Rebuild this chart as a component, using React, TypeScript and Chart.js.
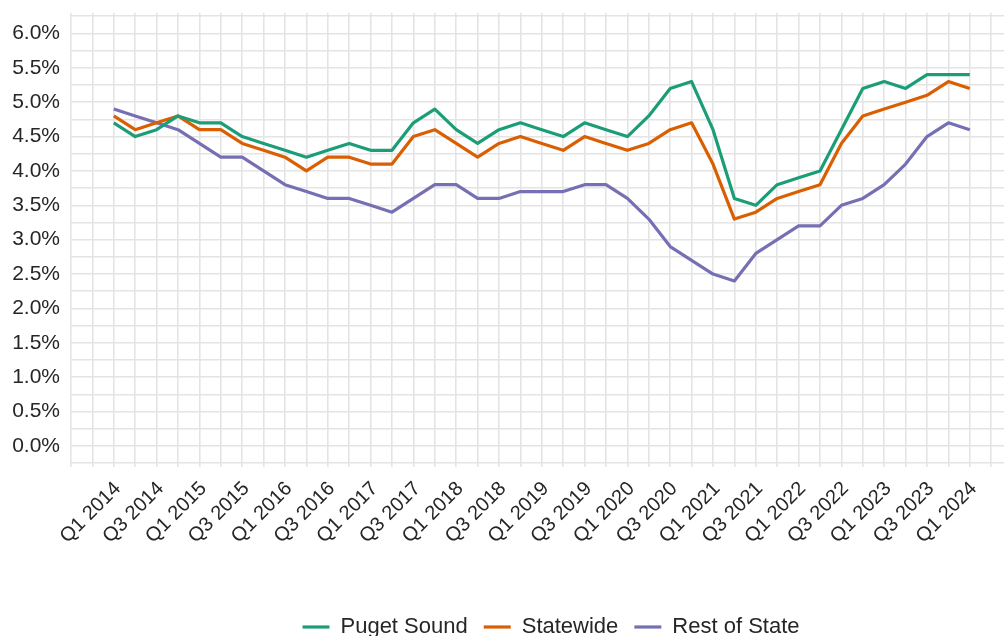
import React, { useEffect, useRef } from "react";
import { Chart, registerables } from "chart.js";

Chart.register(...registerables);

const quarters = [
  "Q1 2014", "Q2 2014", "Q3 2014", "Q4 2014",
  "Q1 2015", "Q2 2015", "Q3 2015", "Q4 2015",
  "Q1 2016", "Q2 2016", "Q3 2016", "Q4 2016",
  "Q1 2017", "Q2 2017", "Q3 2017", "Q4 2017",
  "Q1 2018", "Q2 2018", "Q3 2018", "Q4 2018",
  "Q1 2019", "Q2 2019", "Q3 2019", "Q4 2019",
  "Q1 2020", "Q2 2020", "Q3 2020", "Q4 2020",
  "Q1 2021", "Q2 2021", "Q3 2021", "Q4 2021",
  "Q1 2022", "Q2 2022", "Q3 2022", "Q4 2022",
  "Q1 2023", "Q2 2023", "Q3 2023", "Q4 2023",
  "Q1 2024",
];

const pugetSound = [
  4.7, 4.5, 4.6, 4.8,
  4.7, 4.7, 4.5, 4.4,
  4.3, 4.2, 4.3, 4.4,
  4.3, 4.3, 4.7, 4.9,
  4.6, 4.4, 4.6, 4.7,
  4.6, 4.5, 4.7, 4.6,
  4.5, 4.8, 5.2, 5.3,
  4.6, 3.6, 3.5, 3.8,
  3.9, 4.0, 4.6, 5.2,
  5.3, 5.2, 5.4, 5.4,
  5.4,
];

const statewide = [
  4.8, 4.6, 4.7, 4.8,
  4.6, 4.6, 4.4, 4.3,
  4.2, 4.0, 4.2, 4.2,
  4.1, 4.1, 4.5, 4.6,
  4.4, 4.2, 4.4, 4.5,
  4.4, 4.3, 4.5, 4.4,
  4.3, 4.4, 4.6, 4.7,
  4.1, 3.3, 3.4, 3.6,
  3.7, 3.8, 4.4, 4.8,
  4.9, 5.0, 5.1, 5.3,
  5.2,
];

const restOfState = [
  4.9, 4.8, 4.7, 4.6,
  4.4, 4.2, 4.2, 4.0,
  3.8, 3.7, 3.6, 3.6,
  3.5, 3.4, 3.6, 3.8,
  3.8, 3.6, 3.6, 3.7,
  3.7, 3.7, 3.8, 3.8,
  3.6, 3.3, 2.9, 2.7,
  2.5, 2.4, 2.8, 3.0,
  3.2, 3.2, 3.5, 3.6,
  3.8, 4.1, 4.5, 4.7,
  4.6,
];

const seriesNames = ["Puget Sound", "Statewide", "Rest of State"];
const seriesColors = ["#1B9E77", "#D95F02", "#7570B3"];
const xTickLabels = quarters.filter((q) => q.startsWith("Q1") || q.startsWith("Q3"));
const yTickLabels = ["0.0%", "0.5%", "1.0%", "1.5%", "2.0%", "2.5%", "3.0%", "3.5%", "4.0%", "4.5%", "5.0%", "5.5%", "6.0%"];

const FONT = "'Liberation Sans', Arial, Helvetica, sans-serif";
const TEXT = "#262626";
const GRID = "#e4e4e4";
const W = 1031;
const H = 648;

export default function App() {
  const ref = useRef<HTMLCanvasElement | null>(null);

  useEffect(() => {
    document.body.style.margin = "0";
    document.body.style.overflow = "hidden";
    document.documentElement.style.overflow = "hidden";
    const canvas = ref.current;
    if (!canvas) return;
    const allSeries = [pugetSound, statewide, restOfState];
    const chart = new Chart(canvas, {
      type: "line",
      data: {
        datasets: allSeries.map((s, k) => ({
          label: seriesNames[k],
          data: s.map((v, i) => ({ x: i, y: v })),
          borderColor: seriesColors[k],
          backgroundColor: seriesColors[k],
          borderWidth: 3.2,
          pointRadius: 0,
          tension: 0,
          fill: false,
          borderJoinStyle: "round" as const,
        })),
      },
      options: {
        responsive: false,
        animation: false,
        events: [],
        layout: { padding: { top: 12.8, left: 0, right: 0, bottom: 0 } },
        scales: {
          x: {
            type: "linear",
            min: -2,
            max: 42.86,
            grid: { color: GRID, lineWidth: 1.6, drawTicks: false },
            border: { display: false },
            ticks: {
              stepSize: 1,
              includeBounds: false,
              autoSkip: false,
              maxRotation: 45,
              minRotation: 45,
              padding: 10.5,
              labelOffset: 4,
              color: TEXT,
              font: { family: FONT, size: 20 },
              callback: (value: any) => {
                const v = Number(value);
                const q = quarters[v];
                return q && xTickLabels.includes(q) ? q : "";
              },
            },
            afterFit: (scale: any) => {
              scale.height = 133.4;
              scale.paddingLeft = 0;
              scale.paddingRight = 0;
            },
          },
          y: {
            type: "linear",
            min: -0.3,
            max: 6.3,
            grid: { color: GRID, lineWidth: 1.6, drawTicks: false },
            border: { display: false },
            ticks: {
              stepSize: 0.25,
              includeBounds: false,
              autoSkip: false,
              padding: 11,
              color: TEXT,
              font: { family: FONT, size: 21 },
              callback: (value: any) => {
                const v = Number(value);
                const idx = Math.round(v * 2);
                if (Math.abs(v * 2 - idx) > 1e-6) return "";
                return yTickLabels[idx] ?? "";
              },
            },
            afterFit: (scale: any) => {
              scale.width = 71;
              scale.paddingTop = 0;
              scale.paddingBottom = 0;
            },
          },
        },
        plugins: {
          tooltip: { enabled: false },
          legend: {
            position: "bottom",
            fullSize: false,
            labels: {
              usePointStyle: true,
              pointStyle: "line",
              pointStyleWidth: 27,
              padding: 16,
              color: TEXT,
              font: { family: FONT, size: 22 },
            },
          },
        },
      },
    } as any);
    return () => chart.destroy();
  }, []);

  return (
    <div style={{ width: W, height: H }}>
      <canvas ref={ref} width={W} height={H} style={{ display: "block", width: W, height: H }} />
    </div>
  );
}
